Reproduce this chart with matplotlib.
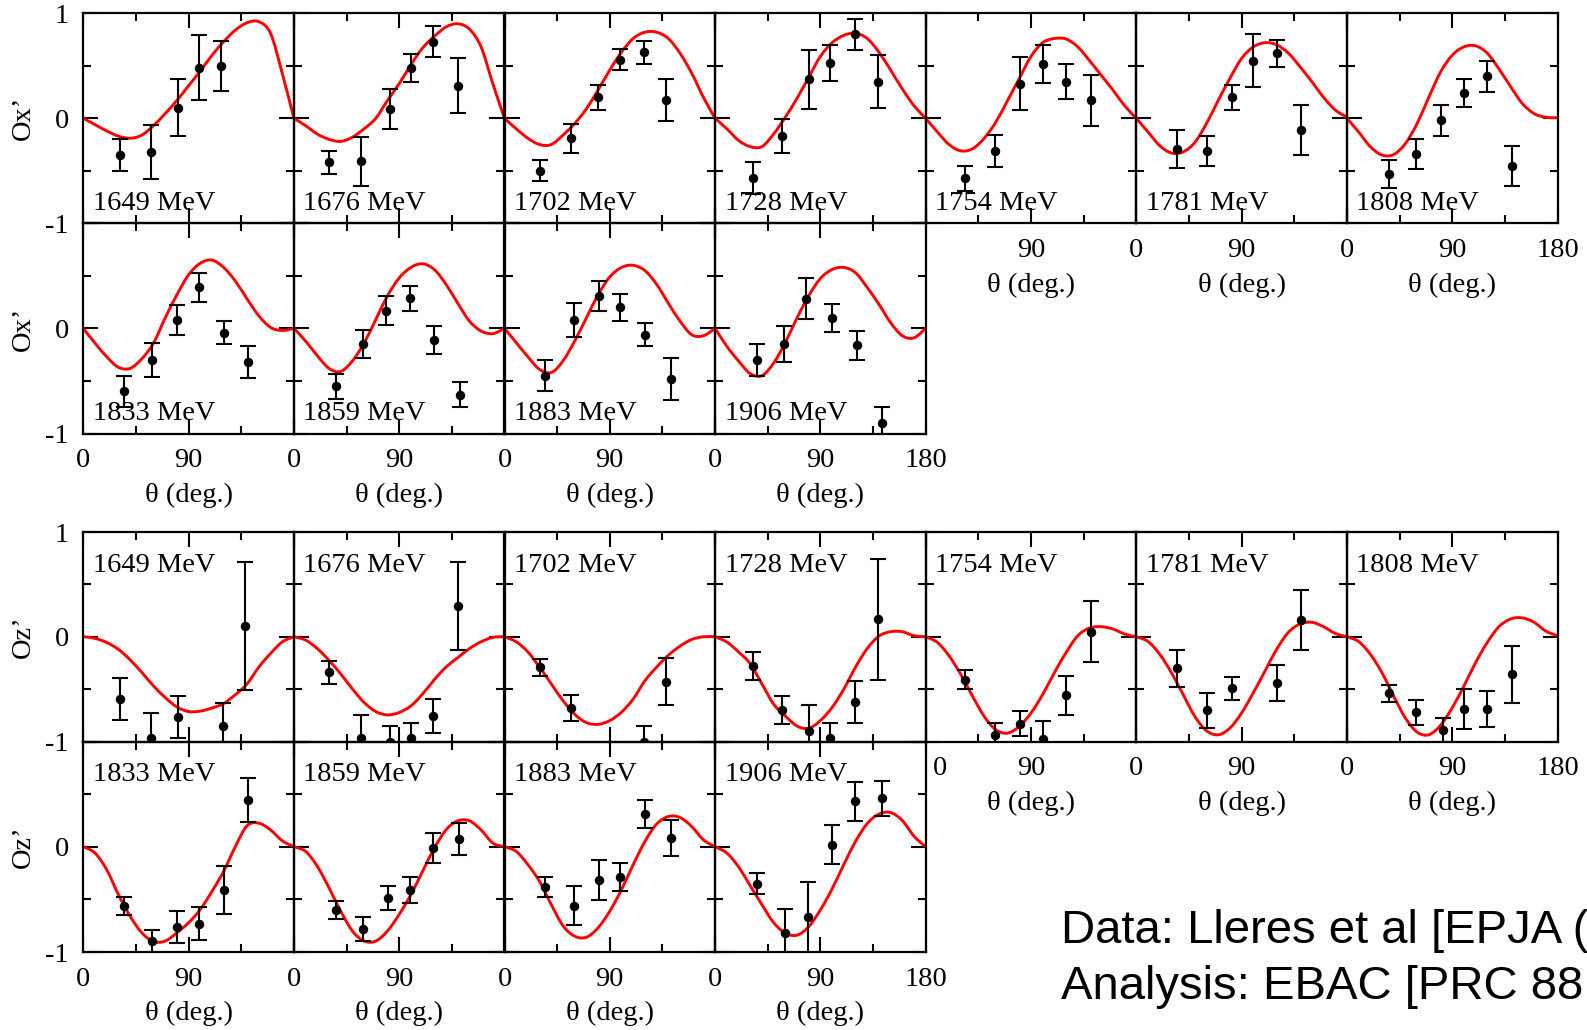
import matplotlib
matplotlib.use('Agg')
import matplotlib.pyplot as plt
from matplotlib.path import Path
from matplotlib.patches import PathPatch

plt.rcParams['font.family'] = ['Liberation Serif', 'DejaVu Serif']

energies = [1649, 1676, 1702, 1728, 1754, 1781, 1808, 1833, 1859, 1883, 1906]

# model curve sampled every 10 degrees
curve_theta = [0, 10, 20, 30, 40, 50, 60, 70, 80, 90, 100, 110, 120, 130, 140, 150, 160, 170, 180]

ox_curves = [
    [0, -0.06, -0.12, -0.17, -0.19, -0.16, -0.07, 0.045, 0.17, 0.31, 0.45, 0.60, 0.73, 0.84, 0.91, 0.92, 0.81, 0.43, 0],
    [0, -0.07, -0.15, -0.20, -0.22, -0.18, -0.10, 0.0, 0.17, 0.33, 0.51, 0.67, 0.78, 0.87, 0.90, 0.85, 0.68, 0.33, 0],
    [0, -0.10, -0.19, -0.25, -0.25, -0.16, -0.05, 0.09, 0.27, 0.46, 0.63, 0.76, 0.82, 0.82, 0.76, 0.62, 0.43, 0.20, 0],
    [0, -0.10, -0.21, -0.27, -0.27, -0.15, 0.01, 0.19, 0.39, 0.59, 0.72, 0.79, 0.81, 0.76, 0.63, 0.46, 0.28, 0.12, 0],
    [0, -0.13, -0.25, -0.31, -0.29, -0.19, -0.035, 0.17, 0.38, 0.59, 0.72, 0.76, 0.755, 0.68, 0.55, 0.41, 0.27, 0.12, 0],
    [0, -0.13, -0.26, -0.33, -0.32, -0.23, -0.05, 0.17, 0.38, 0.57, 0.68, 0.72, 0.70, 0.62, 0.49, 0.35, 0.20, 0.08, 0.01],
    [0, -0.13, -0.27, -0.35, -0.345, -0.24, -0.05, 0.20, 0.44, 0.60, 0.68, 0.69, 0.62, 0.47, 0.30, 0.14, 0.045, 0.01, 0.005],
    [0, -0.14, -0.27, -0.37, -0.38, -0.29, -0.14, 0.10, 0.32, 0.51, 0.62, 0.65, 0.58, 0.45, 0.28, 0.12, 0.01, -0.02, 0],
    [0, -0.12, -0.26, -0.38, -0.41, -0.31, -0.14, 0.085, 0.31, 0.48, 0.58, 0.615, 0.56, 0.42, 0.24, 0.07, -0.025, -0.05, 0],
    [0, -0.135, -0.27, -0.39, -0.42, -0.31, -0.12, 0.10, 0.32, 0.49, 0.58, 0.60, 0.55, 0.42, 0.24, 0.07, -0.06, -0.07, 0],
    [0, -0.17, -0.31, -0.43, -0.45, -0.33, -0.135, 0.10, 0.31, 0.475, 0.56, 0.58, 0.53, 0.39, 0.23, 0.055, -0.07, -0.09, 0],
]

oz_curves = [
    [0, -0.015, -0.055, -0.12, -0.22, -0.34, -0.47, -0.58, -0.67, -0.714, -0.71, -0.68, -0.637, -0.553, -0.45, -0.29, -0.16, -0.05, 0],
    [0, -0.032, -0.113, -0.225, -0.354, -0.498, -0.627, -0.714, -0.746, -0.723, -0.66, -0.547, -0.41, -0.29, -0.20, -0.113, -0.048, -0.006, 0],
    [0, -0.048, -0.145, -0.29, -0.45, -0.61, -0.74, -0.82, -0.836, -0.80, -0.72, -0.595, -0.42, -0.29, -0.177, -0.09, -0.026, 0, 0],
    [0, -0.05, -0.145, -0.257, -0.45, -0.643, -0.756, -0.852, -0.874, -0.80, -0.675, -0.50, -0.29, -0.113, 0.006, 0.048, 0.048, 0.01, 0],
    [0, -0.054, -0.183, -0.36, -0.567, -0.76, -0.888, -0.92, -0.856, -0.728, -0.551, -0.343, -0.151, 0.01, 0.083, 0.096, 0.074, 0.026, 0],
    [0, -0.045, -0.167, -0.343, -0.551, -0.76, -0.897, -0.936, -0.872, -0.728, -0.535, -0.327, -0.119, 0.042, 0.122, 0.138, 0.096, 0.032, 0],
    [0, -0.045, -0.167, -0.343, -0.567, -0.776, -0.91, -0.936, -0.846, -0.679, -0.471, -0.247, -0.054, 0.096, 0.17, 0.18, 0.138, 0.054, 0.01],
    [0, -0.06, -0.218, -0.454, -0.66, -0.817, -0.9, -0.896, -0.817, -0.722, -0.596, -0.423, -0.233, 0.003, 0.2, 0.224, 0.16, 0.057, 0],
    [0, -0.044, -0.186, -0.39, -0.612, -0.80, -0.896, -0.896, -0.80, -0.643, -0.454, -0.233, -0.013, 0.16, 0.246, 0.246, 0.16, 0.035, 0],
    [0, -0.044, -0.17, -0.33, -0.55, -0.75, -0.85, -0.86, -0.77, -0.612, -0.407, -0.17, 0.05, 0.215, 0.287, 0.278, 0.192, 0.066, 0],
    [0, -0.06, -0.19, -0.37, -0.55, -0.72, -0.82, -0.84, -0.76, -0.60, -0.40, -0.17, 0.05, 0.22, 0.31, 0.325, 0.25, 0.10, 0],
]

# measured points (angle, value, error)
ox_theta = [
    [31, 58, 81, 99, 118],
    [30, 57, 82, 100, 119, 140],
    [30, 57, 80, 99, 119, 138],
    [32, 57, 80, 98, 120, 139],
    [34, 59, 81, 100, 120, 141],
    [35, 60, 82, 100, 120, 141],
    [36, 59, 80, 100, 120, 141],
    [35, 59, 80, 99, 120, 141],
    [36, 59, 79, 99, 120, 142],
    [35, 59, 81, 99, 120, 142],
    [36, 59, 78, 100, 121, 143],
]
ox_vals = [
    [-0.35, -0.32, 0.10, 0.48, 0.50],
    [-0.42, -0.41, 0.09, 0.48, 0.73, 0.31],
    [-0.50, -0.19, 0.20, 0.56, 0.63, 0.17],
    [-0.57, -0.17, 0.37, 0.53, 0.80, 0.35],
    [-0.57, -0.31, 0.33, 0.52, 0.35, 0.17],
    [-0.29, -0.31, 0.20, 0.55, 0.62, -0.11],
    [-0.53, -0.34, -0.02, 0.24, 0.40, -0.455],
    [-0.60, -0.30, 0.08, 0.39, -0.04, -0.32],
    [-0.55, -0.15, 0.17, 0.285, -0.11, -0.63],
    [-0.45, 0.08, 0.31, 0.20, -0.06, -0.485],
    [-0.30, -0.15, 0.28, 0.10, -0.16, -0.90],
]
ox_errs = [
    [0.15, 0.26, 0.27, 0.31, 0.24],
    [0.11, 0.23, 0.19, 0.13, 0.15, 0.26],
    [0.10, 0.14, 0.12, 0.10, 0.11, 0.20],
    [0.155, 0.16, 0.28, 0.17, 0.15, 0.255],
    [0.12, 0.15, 0.25, 0.18, 0.17, 0.24],
    [0.18, 0.14, 0.12, 0.255, 0.13, 0.24],
    [0.13, 0.14, 0.15, 0.13, 0.15, 0.19],
    [0.15, 0.16, 0.14, 0.14, 0.11, 0.155],
    [0.12, 0.135, 0.135, 0.12, 0.13, 0.12],
    [0.146, 0.16, 0.14, 0.13, 0.11, 0.20],
    [0.15, 0.17, 0.195, 0.135, 0.14, 0.155],
]

oz_theta = [
    [31, 58, 81, 119, 138],
    [30, 57, 82, 100, 119, 140],
    [30, 57, 119, 138],
    [32, 57, 80, 98, 120, 139],
    [34, 59, 81, 100, 120, 141],
    [35, 60, 82, 120, 141],
    [36, 59, 82, 100, 120, 141],
    [35, 59, 80, 99, 120, 141],
    [36, 59, 80, 99, 119, 141],
    [35, 59, 81, 99, 120, 142],
    [36, 60, 79, 100, 120, 143],
]
oz_vals = [
    [-0.59, -0.97, -0.765, -0.85, 0.10],
    [-0.34, -0.965, -1.0, -0.965, -0.756, 0.29],
    [-0.29, -0.68, -1.0, -0.43],
    [-0.28, -0.70, -0.90, -0.97, -0.627, 0.167],
    [-0.41, -0.94, -0.83, -0.98, -0.56, 0.05],
    [-0.30, -0.70, -0.49, -0.44, 0.16],
    [-0.54, -0.72, -0.89, -0.69, -0.69, -0.36],
    [-0.56, -0.90, -0.76, -0.73, -0.41, 0.445],
    [-0.60, -0.785, -0.49, -0.41, -0.01, 0.07],
    [-0.385, -0.56, -0.32, -0.29, 0.31, 0.08],
    [-0.35, -0.82, -0.67, 0.02, 0.43, 0.46],
]
oz_errs = [
    [0.20, 0.24, 0.20, 0.215, 0.61],
    [0.11, 0.22, 0.145, 0.145, 0.16, 0.42],
    [0.08, 0.12, 0.145, 0.225],
    [0.13, 0.13, 0.25, 0.15, 0.20, 0.58],
    [0.093, 0.12, 0.12, 0.176, 0.19, 0.29],
    [0.175, 0.167, 0.11, 0.17, 0.285],
    [0.083, 0.12, 0.112, 0.19, 0.17, 0.27],
    [0.087, 0.107, 0.15, 0.158, 0.23, 0.21],
    [0.087, 0.114, 0.115, 0.12, 0.14, 0.153],
    [0.095, 0.185, 0.19, 0.134, 0.134, 0.17],
    [0.098, 0.23, 0.335, 0.186, 0.181, 0.166],
]

W, H = 1587, 1030
fig = plt.figure(figsize=(W / 100, H / 100), dpi=100)

px_left = 83.3
px_w = 210.6
# top/bottom pixel edges of each row
row_edges = {
    ('ox', 0): (13.3, 223.3), ('ox', 1): (223.3, 433.5),
    ('oz', 0): (532.0, 741.5), ('oz', 1): (741.5, 952.0),
}
FS = 20.5


def smooth_path(xs, ys):
    # bezier segments through the sampled points (catmull-rom style handles)
    pts = list(zip(xs, ys))
    verts = [pts[0]]
    codes = [Path.MOVETO]
    n = len(pts)
    for i in range(n - 1):
        p0 = pts[max(i - 1, 0)]
        p1 = pts[i]
        p2 = pts[i + 1]
        p3 = pts[min(i + 2, n - 1)]
        c1 = (p1[0] + (p2[0] - p0[0]) / 6.0, p1[1] + (p2[1] - p0[1]) / 6.0)
        c2 = (p2[0] - (p3[0] - p1[0]) / 6.0, p2[1] - (p3[1] - p1[1]) / 6.0)
        verts += [c1, c2, p2]
        codes += [Path.CURVE4] * 3
    return Path(verts, codes)


def xlabels_for(block, row, col):
    if row == 0 and col < 4:
        return None
    last = (row == 0 and col == 6) or (row == 1 and col == 3)
    if row == 0 and col == 4:
        return ['', '90', '']
    return ['0', '90', '180' if last else '']


def draw_block(block, curves, thetas, vals, errs, ylab):
    for i, e in enumerate(energies):
        row, col = (0, i) if i < 7 else (1, i - 7)
        top, bot = row_edges[(block, row)]
        left = px_left + col * px_w
        ax = fig.add_axes([left / W, 1 - bot / H, px_w / W, (bot - top) / H])
        ax.patch.set_alpha(0)

        ax.add_patch(PathPatch(smooth_path(curve_theta, curves[i]), fill=False,
                               edgecolor='#ff0000', lw=2.1, zorder=2))
        ax.errorbar(thetas[i], vals[i], yerr=errs[i], fmt='o', color='black',
                    ms=5.8, elinewidth=1.5, capsize=6, capthick=1.5, zorder=3)

        ax.set_xlim(0, 180)
        ax.set_ylim(-1, 1)
        ax.set_xticks([0, 90, 180])
        ax.set_xticks([45, 135], minor=True)
        ax.set_yticks([-1, 0, 1])
        ax.set_yticks([-0.5, 0.5], minor=True)
        ax.tick_params(which='both', direction='in', top=True, right=True,
                       width=1.5, labelbottom=False, labelleft=False,
                       labelsize=FS, colors='black')
        ax.tick_params(which='major', length=10.5)
        ax.tick_params(which='minor', length=6)
        for s in ax.spines.values():
            s.set_linewidth(1.6)

        xl = xlabels_for(block, row, col)
        if xl is not None:
            ax.set_xticklabels(xl)
            ax.tick_params(axis='x', which='major', labelbottom=True, pad=10.5)
            ax.text(0.5, -0.294, '\u03b8 (deg.)', transform=ax.transAxes,
                    ha='center', va='center', fontsize=FS)
            if block == 'oz' and row == 0 and col == 4:
                # this "0" sits a little right of the panel edge
                ax.text(14 / px_w, -14.5 / (bot - top), '0', transform=ax.transAxes,
                        ha='center', va='top', fontsize=FS)

        if col == 0:
            ax.set_yticklabels(['-1', '0', '1'] if row == 0 else ['-1', '0', ''])
            ax.tick_params(axis='y', which='major', labelleft=True, pad=10.5)
            ax.text(-0.285, 0.5, ylab, transform=ax.transAxes, rotation=90,
                    ha='center', va='center', fontsize=FS)

        label = '%d MeV' % e
        if block == 'ox':
            ax.text(0.045, 0.065, label, transform=ax.transAxes,
                    ha='left', va='baseline', fontsize=FS, zorder=1)
        else:
            ax.text(0.045, 0.81, label, transform=ax.transAxes,
                    ha='left', va='baseline', fontsize=FS, zorder=1)


draw_block('ox', ox_curves, ox_theta, ox_vals, ox_errs, 'Ox\u2019')
draw_block('oz', oz_curves, oz_theta, oz_vals, oz_errs, 'Oz\u2019')

fig.text(1061 / W, 1 - 943 / H, 'Data: Lleres et al [EPJA (', fontsize=34,
         family='Liberation Sans', ha='left', va='baseline')
fig.text(1061 / W, 1 - 999 / H, 'Analysis: EBAC [PRC 88', fontsize=34,
         family='Liberation Sans', ha='left', va='baseline')

fig.savefig('out.png', dpi=100)
